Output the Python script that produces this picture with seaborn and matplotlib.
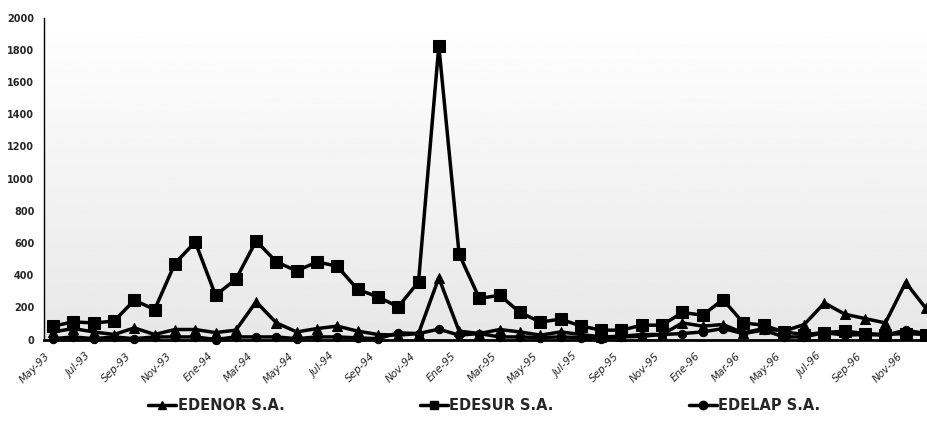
import numpy as np
import pandas as pd
import matplotlib
matplotlib.use('Agg')
import matplotlib.pyplot as plt
from matplotlib.lines import Line2D
import seaborn as sns

# monthly series May-93 .. Dec-96 (44 months), labels in spanish
mes = ['Ene', 'Feb', 'Mar', 'Abr', 'May', 'Jun', 'Jul', 'Ago', 'Sep', 'Oct', 'Nov', 'Dic']
labels = [f'{mes[(4 + k) % 12]}-{93 + (4 + k) // 12}' for k in range(44)]

edenor = [47, 68, 47, 31, 72, 31, 62, 62, 43, 58, 234, 103, 47, 68, 83, 52, 31, 27, 37, 383,
          52, 37, 62, 47, 27, 47, 31, 16, 20, 31, 31, 103, 83, 93, 41, 68, 52, 93, 227, 157,
          130, 103, 354, 193]
edesur = [84, 109, 103, 114, 244, 186, 472, 606, 275, 373, 612, 482, 426, 482, 455, 311, 265, 203, 358, 1824,
          530, 255, 275, 168, 109, 126, 84, 58, 58, 89, 89, 168, 151, 248, 103, 89, 47, 31, 43, 52,
          37, 31, 37, 31]
edelap = [5, 16, 5, 16, 5, 16, 16, 16, 0, 16, 16, 16, 5, 16, 16, 10, 5, 41, 37, 64,
          27, 37, 16, 16, 12, 16, 12, 5, 16, 20, 31, 37, 47, 68, 37, 58, 16, 16, 43, 27,
          31, 27, 58, 37]
series = ['EDENOR S.A.', 'EDESUR S.A.', 'EDELAP S.A.']

idx = np.arange(len(labels))
df = pd.DataFrame({
    'i': np.tile(idx, 3),
    'valor': edenor + edesur + edelap,
    'empresa': np.repeat(series, len(idx)),
})

sns.set_style('white')
plt.rcParams['font.family'] = ['DejaVu Sans']

fig = plt.figure(figsize=(9.28, 4.43), dpi=100)
ax = fig.add_axes([44 / 928, 1 - 339.5 / 443, 1 - 44 / 928, (339.5 - 17.5) / 443])

# gradient background white -> light grey
grad = np.linspace(1.0, 0.905, 256).reshape(-1, 1)
ax.imshow(grad, extent=[0, 1, 0, 1], transform=ax.transAxes, cmap='gray',
          vmin=0, vmax=1, aspect='auto', zorder=0, origin='upper')

sns.lineplot(data=df, x='i', y='valor', hue='empresa', style='empresa',
             palette=['black'] * 3, markers={'EDENOR S.A.': '^', 'EDESUR S.A.': 's', 'EDELAP S.A.': 'o'},
             dashes=False, linewidth=2.5, markeredgecolor='black',
             ax=ax, legend=False, zorder=3, clip_on=False)
for ln, ms in zip(ax.lines, [7, 8, 6]):
    ln.set_markersize(ms)

ax.set_xlim(-0.45, 43.1)
ax.set_ylim(0, 2000)
ax.set_yticks(range(0, 2001, 200))
ax.set_yticklabels([str(v) for v in range(0, 2001, 200)], fontsize=7, fontweight='bold')
ax.set_xticks(idx[::2] - 0.4)
ax.set_xticklabels(labels[::2], rotation=45, ha='right', rotation_mode='anchor',
                   fontsize=7.5, fontstyle='italic')
ax.tick_params(axis='both', direction='out', length=4, width=1, color='black', pad=3)
ax.tick_params(axis='x', length=5)
ax.set_xlabel('')
ax.set_ylabel('')
for s in ['top', 'right']:
    ax.spines[s].set_visible(False)
ax.spines['left'].set_color('black')
ax.spines['bottom'].set_color('black')
ax.spines['bottom'].set_linewidth(2)
ax.spines['left'].set_linewidth(1)

handles = [Line2D([], [], color='black', lw=2.5, marker=m, markersize=6)
           for m in ['^', 's', 'o']]
fig.legend(handles, series, loc='center', bbox_to_anchor=(0.522, 1 - 406 / 443), ncol=3,
           frameon=False, handlelength=1.9, handletextpad=0.1, columnspacing=9.3,
           prop={'weight': 'bold', 'size': 10.5})

fig.savefig('out.png', dpi=100)
